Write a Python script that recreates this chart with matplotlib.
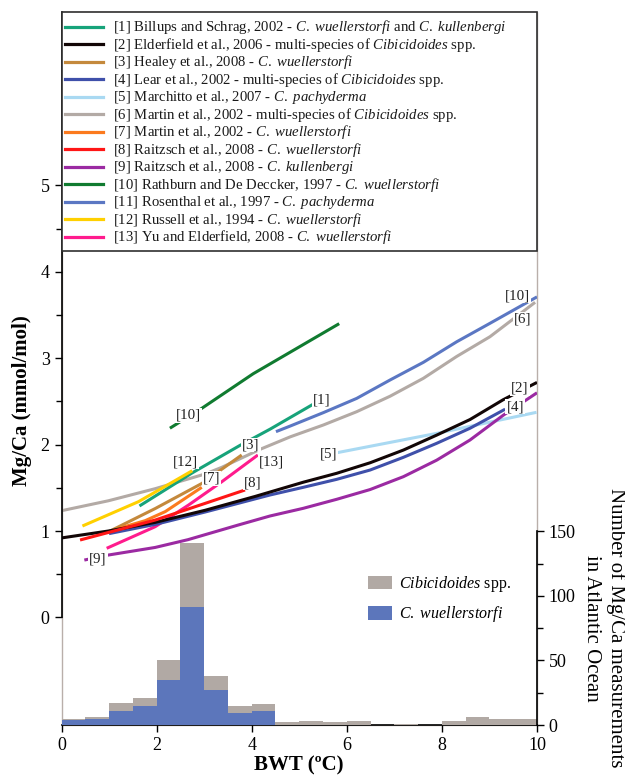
import matplotlib
matplotlib.use("Agg")
import matplotlib.pyplot as plt
from matplotlib.patches import Rectangle, Patch
from matplotlib.ticker import FixedLocator

plt.rcParams['font.family'] = ['Liberation Serif', 'DejaVu Serif']
plt.rcParams['mathtext.fontset'] = 'custom'
plt.rcParams['mathtext.rm'] = 'Liberation Serif'
plt.rcParams['mathtext.it'] = 'Liberation Serif:italic'
plt.rcParams['mathtext.bf'] = 'Liberation Serif:bold'

# ---------------- data ----------------
# calibration curves: BWT (degC) -> Mg/Ca (mmol/mol)
billups_t = [1.64, 2.74, 3.75, 4.39, 5.30]
billups_mg = [1.29, 1.67, 1.99, 2.18, 2.47]
elder_t = [0.0, 0.985, 1.97, 3.02, 4.07, 5.086, 5.787, 6.49, 7.19, 7.89, 8.59, 9.29, 10.0]
elder_mg = [0.92, 1.00, 1.10, 1.24, 1.40, 1.565, 1.668, 1.79, 1.937, 2.11, 2.29, 2.52, 2.72]
healey_t = [0.985, 1.97, 2.95, 3.79]
healey_mg = [0.99, 1.26, 1.55, 1.88]
lear_t = [1.0, 2.0, 3.02, 4.385, 5.086, 5.787, 6.49, 7.19, 7.89, 8.59, 9.33]
lear_mg = [0.97, 1.08, 1.22, 1.417, 1.506, 1.598, 1.706, 1.853, 2.015, 2.189, 2.41]
march_t = [5.79, 7.89, 9.99]
march_mg = [1.906, 2.13, 2.374]
martin_t = [0.0, 0.985, 1.97, 3.02, 3.37, 4.17, 4.81, 5.506, 6.208, 6.91, 7.609, 8.31, 9.011, 9.96]
martin_mg = [1.235, 1.35, 1.49, 1.66, 1.737, 1.944, 2.09, 2.227, 2.381, 2.56, 2.767, 3.02, 3.249, 3.647]
martinw_t = [1.2, 1.76, 2.18, 2.95]
martinw_mg = [1.03, 1.12, 1.224, 1.506]
raitw_t = [0.39, 1.97, 3.02, 3.86]
raitw_mg = [0.896, 1.127, 1.32, 1.475]
raitk_t = [0.48, 0.985, 1.97, 2.66, 3.72, 4.385, 5.086, 5.787, 6.49, 7.19, 7.89, 8.59, 9.29, 10.0]
raitk_mg = [0.664, 0.722, 0.81, 0.90, 1.07, 1.174, 1.263, 1.367, 1.48, 1.629, 1.82, 2.053, 2.34, 2.60]
rath_t = [2.28, 2.95, 4.03, 5.84]
rath_mg = [2.19, 2.42, 2.82, 3.40]
rosen_t = [4.51, 4.81, 5.506, 6.208, 6.91, 7.609, 8.31, 9.011, 9.71, 10.0]
rosen_mg = [2.15, 2.215, 2.37, 2.535, 2.748, 2.952, 3.19, 3.404, 3.62, 3.71]
russell_t = [0.44, 1.62, 2.75]
russell_mg = [1.058, 1.34, 1.698]
yu_t = [0.95, 1.97, 2.67, 3.37, 4.13]
yu_mg = [0.80, 1.05, 1.30, 1.57, 1.88]

legend_labels = [
    r"[1] Billups and Schrag, 2002 - $\mathit{C.\ wuellerstorfi}$ and $\mathit{C.\ kullenbergi}$",
    r"[2] Elderfield et al., 2006 - multi-species of $\mathit{Cibicidoides}$ spp.",
    r"[3] Healey et al., 2008 - $\mathit{C.\ wuellerstorfi}$",
    r"[4] Lear et al., 2002 - multi-species of $\mathit{Cibicidoides}$ spp.",
    r"[5] Marchitto et al., 2007 - $\mathit{C.\ pachyderma}$",
    r"[6] Martin et al., 2002 - multi-species of $\mathit{Cibicidoides}$ spp.",
    r"[7] Martin et al., 2002 - $\mathit{C.\ wuellerstorfi}$",
    r"[8] Raitzsch et al., 2008 - $\mathit{C.\ wuellerstorfi}$",
    r"[9] Raitzsch et al., 2008 - $\mathit{C.\ kullenbergi}$",
    r"[10] Rathburn and De Deccker, 1997 - $\mathit{C.\ wuellerstorfi}$",
    r"[11] Rosenthal et al., 1997 - $\mathit{C.\ pachyderma}$",
    r"[12] Russell et al., 1994 - $\mathit{C.\ wuellerstorfi}$",
    r"[13] Yu and Elderfield, 2008 - $\mathit{C.\ wuellerstorfi}$",
]

# histogram of Atlantic Mg/Ca measurements, 0.5 degC bins
bin_left = [0.0, 0.5, 1.0, 1.5, 2.0, 2.5, 3.0, 3.5, 4.0, 4.5,
            5.0, 5.5, 6.0, 6.5, 7.0, 7.5, 8.0, 8.5, 9.0, 9.5]
n_cibicidoides = [5, 6, 17, 21, 50, 141, 38, 15, 16, 2,
                  3, 2, 3, 0, 1, 0, 3, 6, 5, 5]
n_wuellerstorfi = [4, 5, 11, 15, 35, 91, 27, 9, 11, 0,
                   0, 0, 0, 0, 0, 0, 0, 0, 0, 0]

left_ticks = [0, 1, 2, 3, 4, 5]
right_ticks = [0, 50, 100, 150]
x_ticks = [0, 2, 4, 6, 8, 10]

# ---------------- styles ----------------
curves = [
    (billups_t, billups_mg, '#17a37a'),
    (elder_t, elder_mg, '#120606'),
    (healey_t, healey_mg, '#c4893c'),
    (lear_t, lear_mg, '#3f50aa'),
    (march_t, march_mg, '#a9d9f2'),
    (martin_t, martin_mg, '#b3aaa5'),
    (martinw_t, martinw_mg, '#fb7a1e'),
    (raitw_t, raitw_mg, '#ff1616'),
    (raitk_t, raitk_mg, '#9b2aa2'),
    (rath_t, rath_mg, '#107b30'),
    (rosen_t, rosen_mg, '#5b77c3'),
    (russell_t, russell_mg, '#ffd000'),
    (yu_t, yu_mg, '#ff1b8d'),
]
# draw order (back to front)
draw_order = [5, 4, 10, 9, 0, 11, 2, 6, 12, 8, 3, 1, 7]

curve_labels = [
    ("[10]", 2.67, 2.34), ("[12]", 2.60, 1.80), ("[7]", 3.16, 1.61),
    ("[3]", 3.985, 1.995), ("[13]", 4.42, 1.80), ("[8]", 4.03, 1.56),
    ("[9]", 0.77, 0.676), ("[1]", 5.47, 2.516), ("[5]", 5.61, 1.89),
    ("[2]", 9.64, 2.65), ("[4]", 9.54, 2.44), ("[10]", 9.59, 3.72),
    ("[6]", 9.69, 3.45),
]

GRAY_BAR = '#b1a9a4'
BLUE_BAR = '#5c76bb'
FRAME = '#b9afaa'

W, H = 625, 776
fig = plt.figure(figsize=(W / 100, H / 100), dpi=100)

def fx(px):
    return px / W

def fy(py):
    return 1 - py / H

x0, x1, y0, y1 = 61.5, 537.0, 725.0, 12.0
ax = fig.add_axes([fx(x0), fy(y0), fx(x1) - fx(x0), fy(y1) - fy(y0)])
ax.set_xlim(0, 10)
ax.set_ylim(-1.245, 7.007)
ax.patch.set_visible(False)

ax2 = ax.twinx()
ax2.set_ylim(0, 552)

# gray frame
ax.add_patch(Rectangle((0, 0), 1, 1, transform=ax.transAxes, fill=False,
                       edgecolor=FRAME, lw=1.0, zorder=0, clip_on=False))

for s in ['top', 'right']:
    ax.spines[s].set_visible(False)
ax.spines['left'].set_bounds(0, 7.007)
ax.spines['left'].set_linewidth(1.2)
ax.spines['bottom'].set_linewidth(1.2)
for s in ['top', 'left', 'bottom']:
    ax2.spines[s].set_visible(False)
ax2.spines['right'].set_bounds(0, 150)
ax2.spines['right'].set_linewidth(1.2)

# curves
for k, i in enumerate(draw_order):
    t, m, c = curves[i]
    ax.plot(t, m, color=c, lw=2.2, solid_capstyle='butt', solid_joinstyle='round',
            zorder=2 + k * 0.01)

for txt, t, m in curve_labels:
    ax.text(t, m, txt, fontsize=10.8, ha='center', va='center', color='#222222',
            zorder=5, bbox=dict(facecolor='white', edgecolor='none', pad=0.6))

# ticks
ax.set_xticks(x_ticks)
ax.set_yticks(left_ticks)
ax.yaxis.set_minor_locator(FixedLocator([0.5, 1.5, 2.5, 3.5, 4.5]))
ax.tick_params(axis='both', which='major', direction='out', length=5, width=1,
               labelsize=13, colors='black')
ax.tick_params(axis='y', which='minor', direction='out', length=4.5, width=1)
ax2.set_yticks(right_ticks)
ax2.yaxis.set_minor_locator(FixedLocator([25, 75, 125]))
ax2.tick_params(axis='y', which='major', direction='out', length=5, width=1, labelsize=13)
ax2.tick_params(axis='y', which='minor', direction='out', length=4.5, width=1)

# histogram
ax2.bar(bin_left, n_cibicidoides, width=0.5, align='edge', color=GRAY_BAR, lw=0, zorder=1)
ax2.bar(bin_left, n_wuellerstorfi, width=0.5, align='edge', color=BLUE_BAR, lw=0, zorder=2)

ax2.legend(handles=[Patch(facecolor=GRAY_BAR, edgecolor='none'),
                    Patch(facecolor=BLUE_BAR, edgecolor='none')],
           labels=[r"$\mathit{Cibicidoides}$ spp.", r"$\mathit{C.\ wuellerstorfi}$"],
           loc='upper left', bbox_to_anchor=(fx(368), fy(574)), bbox_transform=fig.transFigure,
           frameon=False, fontsize=11.5, borderpad=0, borderaxespad=0,
           handlelength=1.5, handleheight=0.9, handletextpad=0.45, labelspacing=0.65)

# axis labels
ax.set_xlabel("BWT (ºC)", fontsize=15, fontweight='bold', labelpad=1.5)
fig.text(fx(22), fy(401), "Mg/Ca (mmol/mol)", rotation=90, fontsize=15,
         fontweight='bold', ha='center', va='center')
fig.text(fx(604), fy(628), "Number of Mg/Ca measurements\nin Atlantic Ocean",
         rotation=270, fontsize=15, ha='center', va='center',
         multialignment='center', linespacing=1.3)

# top legend (manual)
fig.patches.append(Rectangle((fx(61.5), fy(251)), fx(537) - fx(61.5), fy(12) - fy(251),
                             transform=fig.transFigure, facecolor='white',
                             edgecolor='#303030', lw=1.2, zorder=2))
for i, lab in enumerate(legend_labels):
    yc = 26.7 + 17.5 * i
    c = curves[i][2]
    fig.add_artist(plt.Line2D([fx(65), fx(103)], [fy(yc), fy(yc)], color=c, lw=2.3,
                              transform=fig.transFigure, zorder=3))
    fig.text(fx(113), fy(yc + 4.6), lab, fontsize=10.6, ha='left', va='baseline',
             color='#1a1a1a', zorder=3)

fig.savefig("out.png", dpi=100)
